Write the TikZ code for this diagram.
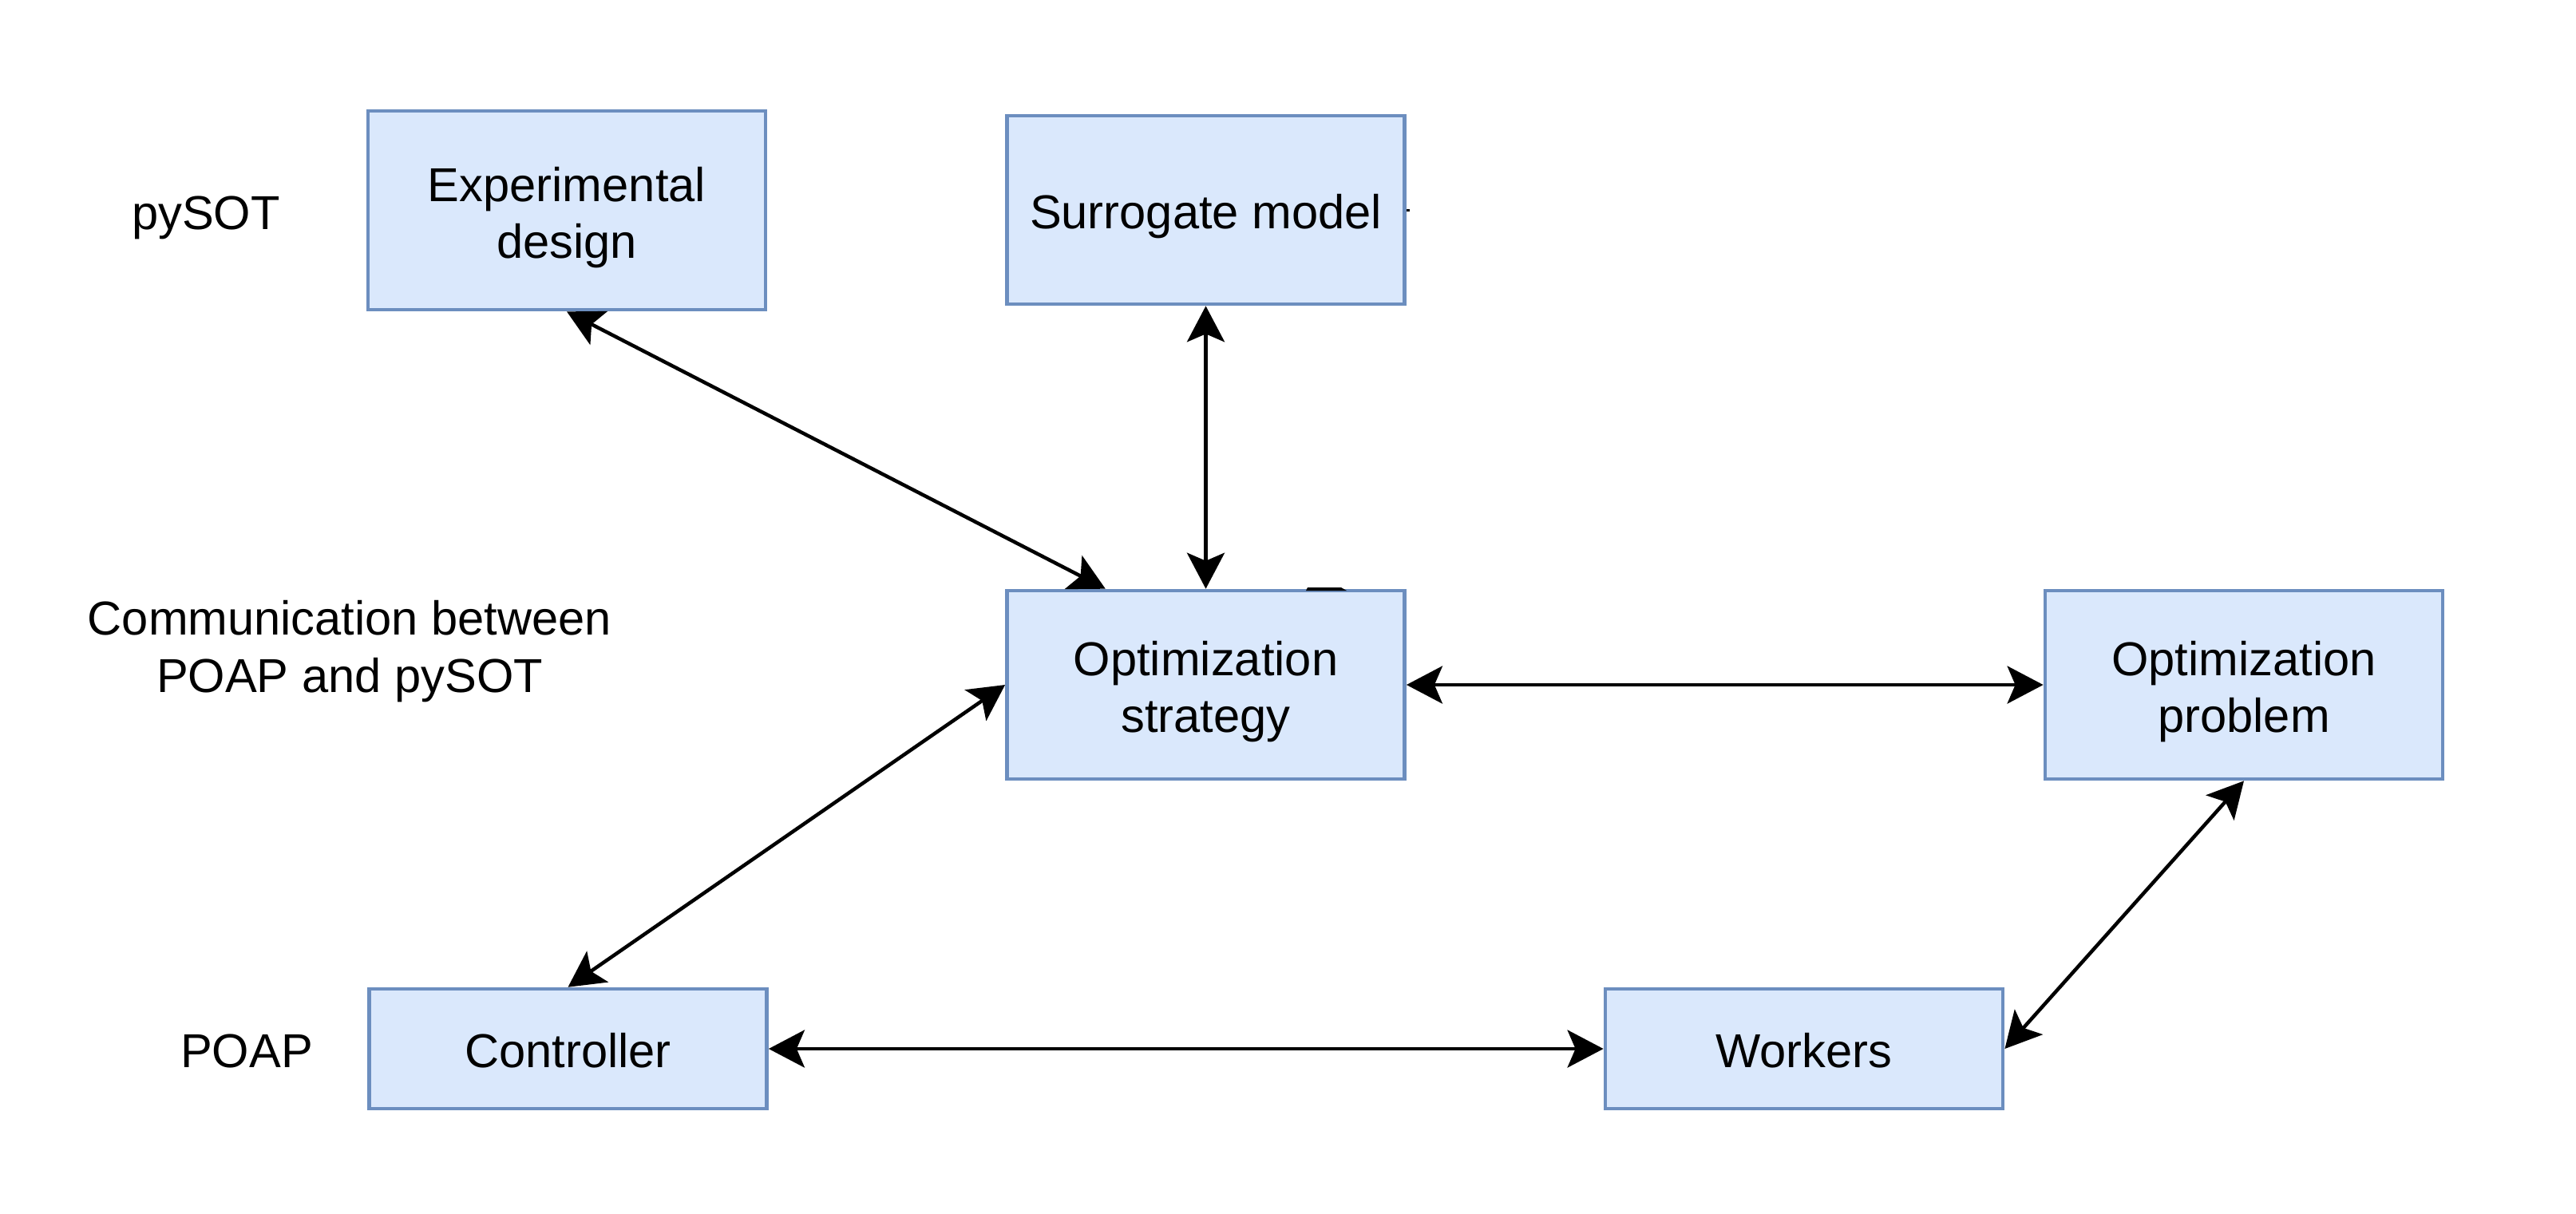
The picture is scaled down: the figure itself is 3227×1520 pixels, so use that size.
\documentclass[tikz,border=0pt]{standalone}
\usepackage{fontspec}
\setmainfont{Liberation Sans}
\usetikzlibrary{arrows.meta,calc}
\definecolor{boxfill}{HTML}{DAE8FC}
\definecolor{boxline}{HTML}{6C8EBF}
\begin{document}
\begin{tikzpicture}[x=0.01cm,y=-0.01cm,
  txt/.style={font=\fontsize{16.96pt}{20.2pt}\selectfont},
  box/.style={txt,draw=boxline,fill=boxfill,line width=0.045cm,minimum width=4.98cm,inner sep=0pt},
  onebox/.style={box,text height=0.46cm,text depth=0pt},
  twobox/.style={box,align=center,text height=1.19cm,text depth=0pt},
  lbl/.style={txt,inner sep=0pt},
  conn/.style={draw=black,line width=0.045cm,{Stealth[length=0.45cm,width=0.47cm,inset=0.1cm]}-{Stealth[length=0.45cm,width=0.47cm,inset=0.1cm]}}
]
\useasboundingbox (0,0) rectangle (3227,1520);
\fill[white] (0,0) rectangle (3227,1520);

\node[twobox,minimum height=2.49cm] (exp) at (710,263.5) {Experimental\\design};
\node[onebox,minimum height=2.36cm] (surr) at (1510.5,263) {Surrogate model};
\node[twobox,minimum height=2.36cm] (opt) at (1510.5,858) {Optimization\\strategy};
\node[twobox,minimum height=2.36cm] (prob) at (2811,858) {Optimization\\problem};
\node[onebox,minimum height=1.50cm] (ctrl) at (711.5,1314) {Controller};
\node[onebox,minimum height=1.50cm] (work) at (2260,1314) {Workers};

\node[lbl,anchor=base] (pysot) at (258,287) {pySOT};
\node[lbl,anchor=base,align=center] (comm) at (438,867) {Communication between\\POAP and pySOT};
\node[lbl,anchor=base] (poap) at (309,1337) {POAP};

\coordinate (optA) at ($(opt.north west)!0.25!(opt.north east)$);
\draw[conn] (exp.south) -- (optA);
\draw[conn] (surr.south) -- (opt.north);
\draw[conn] (opt.east) -- (prob.west);
\draw[conn] (ctrl.north) -- (opt.west);
\draw[conn] (ctrl.east) -- (work.west);
\draw[conn] (prob.south) -- (work.east);

\fill (1636,740) -- (1638,736) -- (1680,736) -- (1687,740) -- cycle;
\fill (1762,261.5) rectangle (1766,265);
\end{tikzpicture}
\end{document}
